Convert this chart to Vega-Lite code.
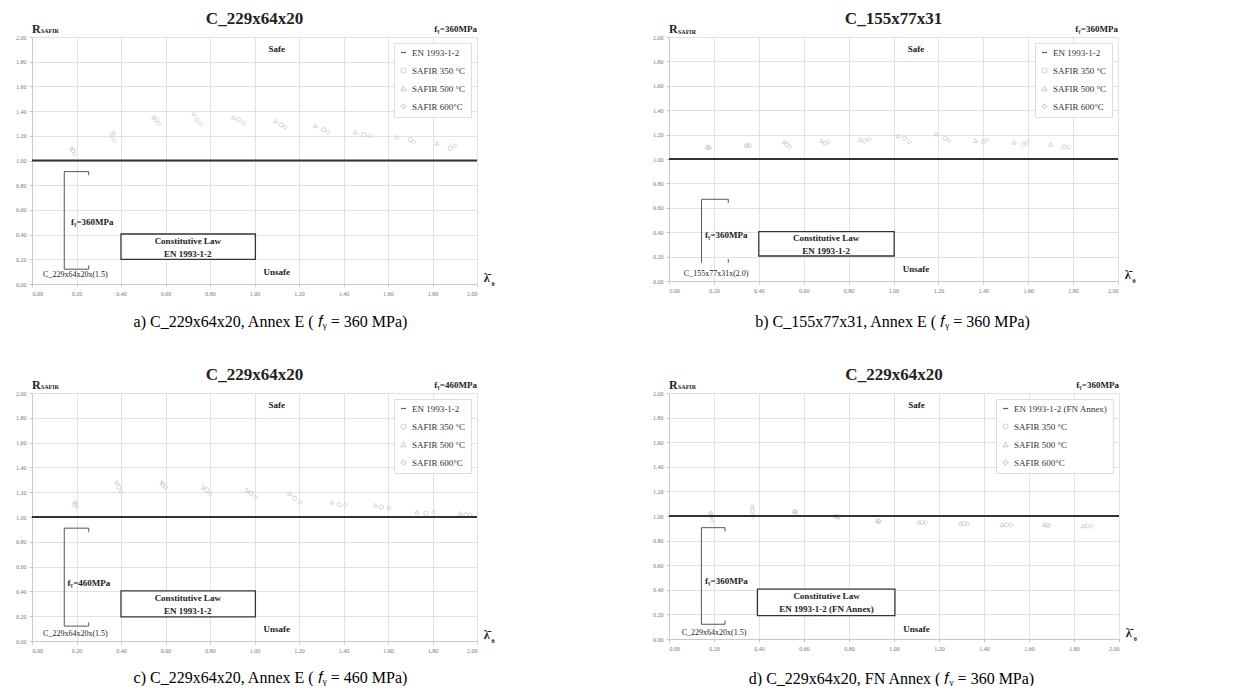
{
"$schema": "https://vega.github.io/schema/vega-lite/v6.json",
"padding": {"left": 12, "top": 9, "right": 0, "bottom": 0},
"background": "white",
"columns": 2,
"spacing": {"row": 36, "column": 154},
"resolve": {"scale": {"color": "independent", "shape": "independent"}, "legend": {"color": "independent", "shape": "independent"}},
"config": {
  "font": "Liberation Serif",
  "view": {"stroke": null},
  "axis": {"grid": true, "gridColor": "#e2e2e2", "domainColor": "#c8c8c8", "tickColor": "#c8c8c8", "tickSize": 3, "labelPadding": 3, "labelFontSize": 6, "labelColor": "#777", "labelFont": "Liberation Serif", "labelOverlap": false},
  "axisY": {"minExtent": 20, "maxExtent": 20},
  "text": {"font": "Liberation Serif", "fontWeight": "bold", "fontSize": 9, "baseline": "middle", "color": "#222"},
  "title": {"font": "Liberation Serif", "fontSize": 17, "fontWeight": "bold", "frame": "group", "offset": -5, "color": "#222"},
  "legend": {"title": null, "orient": "top-right", "offset": 6, "labelFont": "Liberation Serif", "labelFontSize": 9, "labelColor": "#333", "symbolSize": 25, "symbolStrokeWidth": 1.2, "rowPadding": 7, "strokeColor": "#dddddd", "fillColor": "white", "padding": 5}
},
"concat": [
{
 "width": 445, "height": 247,
 "title": "C_229x64x20",
 "encoding": {
  "x": {"field": "x", "type": "quantitative", "scale": {"domain": [0, 2], "nice": false}, "axis": {"values": [0,0.2,0.4,0.6,0.8,1,1.2,1.4,1.6,1.8,2], "format": ".2f", "title": "a) C_229x64x20, Annex E ( 𝑓ᵧ = 360 MPa)", "titleFont": "Liberation Serif", "titleFontSize": 16, "titleFontWeight": "normal", "titleColor": "#000", "titleX": 238, "titleY": 42, "titleBaseline": "alphabetic"}},
  "y": {"field": "y", "type": "quantitative", "scale": {"domain": [0, 2], "nice": false}, "axis": {"values": [0,0.2,0.4,0.6,0.8,1,1.2,1.4,1.6,1.8,2], "format": ".2f", "title": null}}
 },
 "layer": [
  {"data": {"values": [
    {"x":0.185,"y":1.08,"s":"SAFIR 350 °C"},{"x":0.18,"y":1.10,"s":"SAFIR 500 °C"},{"x":0.19,"y":1.05,"s":"SAFIR 600°C"},
    {"x":0.36,"y":1.20,"s":"SAFIR 350 °C"},{"x":0.367,"y":1.23,"s":"SAFIR 500 °C"},{"x":0.37,"y":1.16,"s":"SAFIR 600°C"},
    {"x":0.56,"y":1.33,"s":"SAFIR 350 °C"},{"x":0.547,"y":1.35,"s":"SAFIR 500 °C"},{"x":0.57,"y":1.30,"s":"SAFIR 600°C"},
    {"x":0.74,"y":1.33,"s":"SAFIR 350 °C"},{"x":0.727,"y":1.38,"s":"SAFIR 500 °C"},{"x":0.757,"y":1.30,"s":"SAFIR 600°C"},
    {"x":0.93,"y":1.33,"s":"SAFIR 350 °C"},{"x":0.906,"y":1.35,"s":"SAFIR 500 °C"},{"x":0.951,"y":1.30,"s":"SAFIR 600°C"},
    {"x":1.12,"y":1.29,"s":"SAFIR 350 °C"},{"x":1.094,"y":1.32,"s":"SAFIR 500 °C"},{"x":1.138,"y":1.27,"s":"SAFIR 600°C"},
    {"x":1.31,"y":1.25,"s":"SAFIR 350 °C"},{"x":1.273,"y":1.28,"s":"SAFIR 500 °C"},{"x":1.33,"y":1.23,"s":"SAFIR 600°C"},
    {"x":1.49,"y":1.21,"s":"SAFIR 350 °C"},{"x":1.453,"y":1.23,"s":"SAFIR 500 °C"},{"x":1.516,"y":1.20,"s":"SAFIR 600°C"},
    {"x":1.70,"y":1.17,"s":"SAFIR 350 °C"},{"x":1.64,"y":1.19,"s":"SAFIR 500 °C"},{"x":1.715,"y":1.15,"s":"SAFIR 600°C"},
    {"x":1.88,"y":1.10,"s":"SAFIR 350 °C"},{"x":1.82,"y":1.14,"s":"SAFIR 500 °C"},{"x":1.90,"y":1.12,"s":"SAFIR 600°C"}
   ]},
   "mark": {"type": "point", "filled": false, "size": 18, "strokeWidth": 1},
   "encoding": {
    "color": {"field": "s", "type": "nominal", "scale": {"domain": ["EN 1993-1-2","SAFIR 350 °C","SAFIR 500 °C","SAFIR 600°C"], "range": ["#222222","#c4c4c4","#c4c4c4","#c4c4c4"]}},
    "shape": {"field": "s", "type": "nominal", "scale": {"domain": ["EN 1993-1-2","SAFIR 350 °C","SAFIR 500 °C","SAFIR 600°C"], "range": ["stroke","circle","triangle-up","diamond"]}}
   }},
  {"data": {"values": [{"x":0,"x2":2,"y":1}]}, "mark": {"type": "rule", "color": "#333", "strokeWidth": 2},
   "encoding": {"x2": {"field": "x2"}}},
  {"data": {"values": [{"x":0.145,"x2":0.145,"y":0.12,"y2":0.91},{"x":0.145,"x2":0.255,"y":0.91,"y2":0.91},{"x":0.255,"x2":0.255,"y":0.91,"y2":0.88},{"x":0.145,"x2":0.255,"y":0.12,"y2":0.12},{"x":0.255,"x2":0.255,"y":0.12,"y2":0.15}]},
   "mark": {"type": "rule", "color": "#555", "strokeWidth": 1},
   "encoding": {"x2": {"field": "x2"}, "y2": {"field": "y2"}}},
  {"data": {"values": [{"x":0.40,"x2":1.004,"y":0.20,"y2":0.405}]},
   "mark": {"type": "rect", "fill": "white", "stroke": "#333", "strokeWidth": 1.3},
   "encoding": {"x2": {"field": "x2"}, "y2": {"field": "y2"}}},
  {"data": {"values": [{"t":"Safe","x":1.10,"y":1.90},{"t":"Unsafe","x":1.10,"y":0.095},{"t":"Constitutive Law","x":0.70,"y":0.35},{"t":"EN 1993-1-2","x":0.70,"y":0.245}]},
   "mark": {"type": "text", "align": "center"},
   "encoding": {"text": {"field": "t"}}},
  {"data": {"values": [{"t":"fᵧ=360MPa","x":0.175,"y":0.50}]},
   "mark": {"type": "text", "align": "left"},
   "encoding": {"text": {"field": "t"}}},
  {"data": {"values": [{"t":"fᵧ=360MPa","x":2.0,"y":2.065}]},
   "mark": {"type": "text", "align": "right"},
   "encoding": {"text": {"field": "t"}}},
  {"data": {"values": [{"t":"C_229x64x20x(1.5)","x":0.195,"y":0.07}]},
   "mark": {"type": "text", "align": "center", "fontWeight": "normal", "fontSize": 8},
   "encoding": {"text": {"field": "t"}}},
  {"data": {"values": [{"t":"R","x":0.0,"y":2.065},{"t":"λ̄","x":2.03,"y":0.05}]},
   "mark": {"type": "text", "align": "left", "fontSize": 12},
   "encoding": {"text": {"field": "t"}}},
  {"data": {"values": [{"t":"SAFIR","x":0.04,"y":2.045},{"t":"θ","x":2.065,"y":0.0}]},
   "mark": {"type": "text", "align": "left", "fontSize": 6},
   "encoding": {"text": {"field": "t"}}}
 ]
},
{
 "width": 449, "height": 244,
 "title": "C_155x77x31",
 "encoding": {
  "x": {"field": "x", "type": "quantitative", "scale": {"domain": [0, 2], "nice": false}, "axis": {"values": [0,0.2,0.4,0.6,0.8,1,1.2,1.4,1.6,1.8,2], "format": ".2f", "title": "b) C_155x77x31, Annex E ( 𝑓ᵧ = 360 MPa)", "titleFont": "Liberation Serif", "titleFontSize": 16, "titleFontWeight": "normal", "titleColor": "#000", "titleX": 223, "titleY": 45, "titleBaseline": "alphabetic"}},
  "y": {"field": "y", "type": "quantitative", "scale": {"domain": [0, 2], "nice": false}, "axis": {"values": [0,0.2,0.4,0.6,0.8,1,1.2,1.4,1.6,1.8,2], "format": ".2f", "title": null}}
 },
 "layer": [
  {"data": {"values": [
    {"x":0.17,"y":1.095,"s":"SAFIR 350 °C"},{"x":0.176,"y":1.10,"s":"SAFIR 500 °C"},{"x":0.18,"y":1.09,"s":"SAFIR 600°C"},
    {"x":0.345,"y":1.11,"s":"SAFIR 350 °C"},{"x":0.35,"y":1.115,"s":"SAFIR 500 °C"},{"x":0.36,"y":1.11,"s":"SAFIR 600°C"},
    {"x":0.525,"y":1.12,"s":"SAFIR 350 °C"},{"x":0.515,"y":1.14,"s":"SAFIR 500 °C"},{"x":0.537,"y":1.10,"s":"SAFIR 600°C"},
    {"x":0.695,"y":1.13,"s":"SAFIR 350 °C"},{"x":0.68,"y":1.15,"s":"SAFIR 500 °C"},{"x":0.71,"y":1.14,"s":"SAFIR 600°C"},
    {"x":0.87,"y":1.15,"s":"SAFIR 350 °C"},{"x":0.85,"y":1.16,"s":"SAFIR 500 °C"},{"x":0.89,"y":1.16,"s":"SAFIR 600°C"},
    {"x":1.05,"y":1.17,"s":"SAFIR 350 °C"},{"x":1.02,"y":1.19,"s":"SAFIR 500 °C"},{"x":1.07,"y":1.14,"s":"SAFIR 600°C"},
    {"x":1.23,"y":1.17,"s":"SAFIR 350 °C"},{"x":1.19,"y":1.205,"s":"SAFIR 500 °C"},{"x":1.246,"y":1.15,"s":"SAFIR 600°C"},
    {"x":1.40,"y":1.14,"s":"SAFIR 350 °C"},{"x":1.366,"y":1.15,"s":"SAFIR 500 °C"},{"x":1.418,"y":1.16,"s":"SAFIR 600°C"},
    {"x":1.58,"y":1.12,"s":"SAFIR 350 °C"},{"x":1.537,"y":1.137,"s":"SAFIR 500 °C"},{"x":1.597,"y":1.137,"s":"SAFIR 600°C"},
    {"x":1.76,"y":1.10,"s":"SAFIR 350 °C"},{"x":1.70,"y":1.12,"s":"SAFIR 500 °C"},{"x":1.78,"y":1.096,"s":"SAFIR 600°C"}
   ]},
   "mark": {"type": "point", "filled": false, "size": 18, "strokeWidth": 1},
   "encoding": {
    "color": {"field": "s", "type": "nominal", "scale": {"domain": ["EN 1993-1-2","SAFIR 350 °C","SAFIR 500 °C","SAFIR 600°C"], "range": ["#222222","#c4c4c4","#c4c4c4","#c4c4c4"]}},
    "shape": {"field": "s", "type": "nominal", "scale": {"domain": ["EN 1993-1-2","SAFIR 350 °C","SAFIR 500 °C","SAFIR 600°C"], "range": ["stroke","circle","triangle-up","diamond"]}}
   }},
  {"data": {"values": [{"x":0,"x2":2,"y":1}]}, "mark": {"type": "rule", "color": "#333", "strokeWidth": 2},
   "encoding": {"x2": {"field": "x2"}}},
  {"data": {"values": [{"x":0.145,"x2":0.145,"y":0.15,"y2":0.67},{"x":0.145,"x2":0.264,"y":0.67,"y2":0.67},{"x":0.264,"x2":0.264,"y":0.67,"y2":0.64},{"x":0.264,"x2":0.264,"y":0.15,"y2":0.18}]},
   "mark": {"type": "rule", "color": "#555", "strokeWidth": 1},
   "encoding": {"x2": {"field": "x2"}, "y2": {"field": "y2"}}},
  {"data": {"values": [{"x":0.40,"x2":1.003,"y":0.205,"y2":0.405}]},
   "mark": {"type": "rect", "fill": "white", "stroke": "#333", "strokeWidth": 1.3},
   "encoding": {"x2": {"field": "x2"}, "y2": {"field": "y2"}}},
  {"data": {"values": [{"t":"Safe","x":1.10,"y":1.90},{"t":"Unsafe","x":1.10,"y":0.10},{"t":"Constitutive Law","x":0.70,"y":0.355},{"t":"EN 1993-1-2","x":0.70,"y":0.25}]},
   "mark": {"type": "text", "align": "center"},
   "encoding": {"text": {"field": "t"}}},
  {"data": {"values": [{"t":"fᵧ=360MPa","x":0.16,"y":0.38}]},
   "mark": {"type": "text", "align": "left"},
   "encoding": {"text": {"field": "t"}}},
  {"data": {"values": [{"t":"fᵧ=360MPa","x":2.0,"y":2.065}]},
   "mark": {"type": "text", "align": "right"},
   "encoding": {"text": {"field": "t"}}},
  {"data": {"values": [{"t":"C_155x77x31x(2.0)","x":0.21,"y":0.055}]},
   "mark": {"type": "text", "align": "center", "fontWeight": "normal", "fontSize": 8},
   "encoding": {"text": {"field": "t"}}},
  {"data": {"values": [{"t":"R","x":0.0,"y":2.065},{"t":"λ̄","x":2.03,"y":0.05}]},
   "mark": {"type": "text", "align": "left", "fontSize": 12},
   "encoding": {"text": {"field": "t"}}},
  {"data": {"values": [{"t":"SAFIR","x":0.04,"y":2.045},{"t":"θ","x":2.065,"y":0.0}]},
   "mark": {"type": "text", "align": "left", "fontSize": 6},
   "encoding": {"text": {"field": "t"}}}
 ]
},
{
 "width": 445, "height": 248,
 "title": "C_229x64x20",
 "encoding": {
  "x": {"field": "x", "type": "quantitative", "scale": {"domain": [0, 2], "nice": false}, "axis": {"values": [0,0.2,0.4,0.6,0.8,1,1.2,1.4,1.6,1.8,2], "format": ".2f", "title": "c) C_229x64x20, Annex E ( 𝑓ᵧ = 460 MPa)", "titleFont": "Liberation Serif", "titleFontSize": 16, "titleFontWeight": "normal", "titleColor": "#000", "titleX": 238, "titleY": 41, "titleBaseline": "alphabetic"}},
  "y": {"field": "y", "type": "quantitative", "scale": {"domain": [0, 2], "nice": false}, "axis": {"values": [0,0.2,0.4,0.6,0.8,1,1.2,1.4,1.6,1.8,2], "format": ".2f", "title": null}}
 },
 "layer": [
  {"data": {"values": [
    {"x":0.19,"y":1.10,"s":"SAFIR 350 °C"},{"x":0.195,"y":1.12,"s":"SAFIR 500 °C"},{"x":0.20,"y":1.08,"s":"SAFIR 600°C"},
    {"x":0.39,"y":1.24,"s":"SAFIR 350 °C"},{"x":0.382,"y":1.28,"s":"SAFIR 500 °C"},{"x":0.40,"y":1.20,"s":"SAFIR 600°C"},
    {"x":0.59,"y":1.26,"s":"SAFIR 350 °C"},{"x":0.584,"y":1.28,"s":"SAFIR 500 °C"},{"x":0.60,"y":1.24,"s":"SAFIR 600°C"},
    {"x":0.785,"y":1.22,"s":"SAFIR 350 °C"},{"x":0.77,"y":1.24,"s":"SAFIR 500 °C"},{"x":0.80,"y":1.19,"s":"SAFIR 600°C"},
    {"x":0.985,"y":1.19,"s":"SAFIR 350 °C"},{"x":0.966,"y":1.22,"s":"SAFIR 500 °C"},{"x":1.004,"y":1.16,"s":"SAFIR 600°C"},
    {"x":1.18,"y":1.15,"s":"SAFIR 350 °C"},{"x":1.158,"y":1.19,"s":"SAFIR 500 °C"},{"x":1.206,"y":1.12,"s":"SAFIR 600°C"},
    {"x":1.38,"y":1.10,"s":"SAFIR 350 °C"},{"x":1.348,"y":1.12,"s":"SAFIR 500 °C"},{"x":1.408,"y":1.095,"s":"SAFIR 600°C"},
    {"x":1.57,"y":1.08,"s":"SAFIR 350 °C"},{"x":1.543,"y":1.095,"s":"SAFIR 500 °C"},{"x":1.603,"y":1.07,"s":"SAFIR 600°C"},
    {"x":1.77,"y":1.03,"s":"SAFIR 350 °C"},{"x":1.73,"y":1.04,"s":"SAFIR 500 °C"},{"x":1.805,"y":1.04,"s":"SAFIR 600°C"},
    {"x":1.95,"y":1.02,"s":"SAFIR 350 °C"},{"x":1.925,"y":1.03,"s":"SAFIR 500 °C"},{"x":1.97,"y":1.02,"s":"SAFIR 600°C"}
   ]},
   "mark": {"type": "point", "filled": false, "size": 18, "strokeWidth": 1},
   "encoding": {
    "color": {"field": "s", "type": "nominal", "scale": {"domain": ["EN 1993-1-2","SAFIR 350 °C","SAFIR 500 °C","SAFIR 600°C"], "range": ["#222222","#c4c4c4","#c4c4c4","#c4c4c4"]}},
    "shape": {"field": "s", "type": "nominal", "scale": {"domain": ["EN 1993-1-2","SAFIR 350 °C","SAFIR 500 °C","SAFIR 600°C"], "range": ["stroke","circle","triangle-up","diamond"]}}
   }},
  {"data": {"values": [{"x":0,"x2":2,"y":1}]}, "mark": {"type": "rule", "color": "#333", "strokeWidth": 2},
   "encoding": {"x2": {"field": "x2"}}},
  {"data": {"values": [{"x":0.145,"x2":0.145,"y":0.12,"y2":0.91},{"x":0.145,"x2":0.255,"y":0.91,"y2":0.91},{"x":0.255,"x2":0.255,"y":0.91,"y2":0.88},{"x":0.145,"x2":0.255,"y":0.12,"y2":0.12},{"x":0.255,"x2":0.255,"y":0.12,"y2":0.15}]},
   "mark": {"type": "rule", "color": "#555", "strokeWidth": 1},
   "encoding": {"x2": {"field": "x2"}, "y2": {"field": "y2"}}},
  {"data": {"values": [{"x":0.40,"x2":1.004,"y":0.195,"y2":0.405}]},
   "mark": {"type": "rect", "fill": "white", "stroke": "#333", "strokeWidth": 1.3},
   "encoding": {"x2": {"field": "x2"}, "y2": {"field": "y2"}}},
  {"data": {"values": [{"t":"Safe","x":1.10,"y":1.90},{"t":"Unsafe","x":1.10,"y":0.095},{"t":"Constitutive Law","x":0.70,"y":0.35},{"t":"EN 1993-1-2","x":0.70,"y":0.24}]},
   "mark": {"type": "text", "align": "center"},
   "encoding": {"text": {"field": "t"}}},
  {"data": {"values": [{"t":"fᵧ=460MPa","x":0.16,"y":0.47}]},
   "mark": {"type": "text", "align": "left"},
   "encoding": {"text": {"field": "t"}}},
  {"data": {"values": [{"t":"fᵧ=460MPa","x":2.0,"y":2.065}]},
   "mark": {"type": "text", "align": "right"},
   "encoding": {"text": {"field": "t"}}},
  {"data": {"values": [{"t":"C_229x64x20x(1.5)","x":0.195,"y":0.055}]},
   "mark": {"type": "text", "align": "center", "fontWeight": "normal", "fontSize": 8},
   "encoding": {"text": {"field": "t"}}},
  {"data": {"values": [{"t":"R","x":0.0,"y":2.065},{"t":"λ̄","x":2.03,"y":0.05}]},
   "mark": {"type": "text", "align": "left", "fontSize": 12},
   "encoding": {"text": {"field": "t"}}},
  {"data": {"values": [{"t":"SAFIR","x":0.04,"y":2.045},{"t":"θ","x":2.065,"y":0.0}]},
   "mark": {"type": "text", "align": "left", "fontSize": 6},
   "encoding": {"text": {"field": "t"}}}
 ]
},
{
 "width": 450, "height": 246,
 "title": "C_229x64x20",
 "encoding": {
  "x": {"field": "x", "type": "quantitative", "scale": {"domain": [0, 2], "nice": false}, "axis": {"values": [0,0.2,0.4,0.6,0.8,1,1.2,1.4,1.6,1.8,2], "format": ".2f", "title": "d) C_229x64x20, FN Annex ( 𝑓ᵧ = 360 MPa)", "titleFont": "Liberation Serif", "titleFontSize": 16, "titleFontWeight": "normal", "titleColor": "#000", "titleX": 222, "titleY": 44, "titleBaseline": "alphabetic"}},
  "y": {"field": "y", "type": "quantitative", "scale": {"domain": [0, 2], "nice": false}, "axis": {"values": [0,0.2,0.4,0.6,0.8,1,1.2,1.4,1.6,1.8,2], "format": ".2f", "title": null}}
 },
 "layer": [
  {"data": {"values": [
    {"x":0.187,"y":1.00,"s":"SAFIR 350 °C"},{"x":0.185,"y":1.03,"s":"SAFIR 500 °C"},{"x":0.19,"y":0.96,"s":"SAFIR 600°C"},
    {"x":0.372,"y":1.04,"s":"SAFIR 350 °C"},{"x":0.37,"y":1.08,"s":"SAFIR 500 °C"},{"x":0.375,"y":1.00,"s":"SAFIR 600°C"},
    {"x":0.56,"y":1.035,"s":"SAFIR 350 °C"},{"x":0.556,"y":1.04,"s":"SAFIR 500 °C"},{"x":0.565,"y":1.03,"s":"SAFIR 600°C"},
    {"x":0.75,"y":0.995,"s":"SAFIR 350 °C"},{"x":0.74,"y":1.00,"s":"SAFIR 500 °C"},{"x":0.755,"y":0.99,"s":"SAFIR 600°C"},
    {"x":0.93,"y":0.96,"s":"SAFIR 350 °C"},{"x":0.926,"y":0.96,"s":"SAFIR 500 °C"},{"x":0.935,"y":0.955,"s":"SAFIR 600°C"},
    {"x":1.125,"y":0.95,"s":"SAFIR 350 °C"},{"x":1.11,"y":0.95,"s":"SAFIR 500 °C"},{"x":1.14,"y":0.945,"s":"SAFIR 600°C"},
    {"x":1.31,"y":0.94,"s":"SAFIR 350 °C"},{"x":1.296,"y":0.94,"s":"SAFIR 500 °C"},{"x":1.325,"y":0.935,"s":"SAFIR 600°C"},
    {"x":1.50,"y":0.93,"s":"SAFIR 350 °C"},{"x":1.48,"y":0.93,"s":"SAFIR 500 °C"},{"x":1.52,"y":0.925,"s":"SAFIR 600°C"},
    {"x":1.68,"y":0.925,"s":"SAFIR 350 °C"},{"x":1.667,"y":0.93,"s":"SAFIR 500 °C"},{"x":1.69,"y":0.92,"s":"SAFIR 600°C"},
    {"x":1.86,"y":0.92,"s":"SAFIR 350 °C"},{"x":1.84,"y":0.92,"s":"SAFIR 500 °C"},{"x":1.88,"y":0.915,"s":"SAFIR 600°C"}
   ]},
   "mark": {"type": "point", "filled": false, "size": 18, "strokeWidth": 1},
   "encoding": {
    "color": {"field": "s", "type": "nominal", "scale": {"domain": ["EN 1993-1-2 (FN Annex)","SAFIR 350 °C","SAFIR 500 °C","SAFIR 600°C"], "range": ["#222222","#c4c4c4","#c4c4c4","#c4c4c4"]}},
    "shape": {"field": "s", "type": "nominal", "scale": {"domain": ["EN 1993-1-2 (FN Annex)","SAFIR 350 °C","SAFIR 500 °C","SAFIR 600°C"], "range": ["stroke","circle","triangle-up","diamond"]}}
   }},
  {"data": {"values": [{"x":0,"x2":2,"y":1}]}, "mark": {"type": "rule", "color": "#333", "strokeWidth": 2},
   "encoding": {"x2": {"field": "x2"}}},
  {"data": {"values": [{"x":0.144,"x2":0.144,"y":0.12,"y2":0.905},{"x":0.144,"x2":0.249,"y":0.905,"y2":0.905},{"x":0.249,"x2":0.249,"y":0.905,"y2":0.875},{"x":0.144,"x2":0.249,"y":0.12,"y2":0.12},{"x":0.249,"x2":0.249,"y":0.12,"y2":0.15}]},
   "mark": {"type": "rule", "color": "#555", "strokeWidth": 1},
   "encoding": {"x2": {"field": "x2"}, "y2": {"field": "y2"}}},
  {"data": {"values": [{"x":0.393,"x2":1.004,"y":0.19,"y2":0.405}]},
   "mark": {"type": "rect", "fill": "white", "stroke": "#333", "strokeWidth": 1.3},
   "encoding": {"x2": {"field": "x2"}, "y2": {"field": "y2"}}},
  {"data": {"values": [{"t":"Safe","x":1.10,"y":1.90},{"t":"Unsafe","x":1.10,"y":0.08},{"t":"Constitutive Law","x":0.70,"y":0.35},{"t":"EN 1993-1-2 (FN Annex)","x":0.70,"y":0.24}]},
   "mark": {"type": "text", "align": "center"},
   "encoding": {"text": {"field": "t"}}},
  {"data": {"values": [{"t":"fᵧ=360MPa","x":0.16,"y":0.47}]},
   "mark": {"type": "text", "align": "left"},
   "encoding": {"text": {"field": "t"}}},
  {"data": {"values": [{"t":"fᵧ=360MPa","x":2.0,"y":2.065}]},
   "mark": {"type": "text", "align": "right"},
   "encoding": {"text": {"field": "t"}}},
  {"data": {"values": [{"t":"C_229x64x20x(1.5)","x":0.2,"y":0.046}]},
   "mark": {"type": "text", "align": "center", "fontWeight": "normal", "fontSize": 8},
   "encoding": {"text": {"field": "t"}}},
  {"data": {"values": [{"t":"R","x":0.0,"y":2.065},{"t":"λ̄","x":2.03,"y":0.05}]},
   "mark": {"type": "text", "align": "left", "fontSize": 12},
   "encoding": {"text": {"field": "t"}}},
  {"data": {"values": [{"t":"SAFIR","x":0.04,"y":2.045},{"t":"θ","x":2.065,"y":0.0}]},
   "mark": {"type": "text", "align": "left", "fontSize": 6},
   "encoding": {"text": {"field": "t"}}}
 ]
}
]
}
